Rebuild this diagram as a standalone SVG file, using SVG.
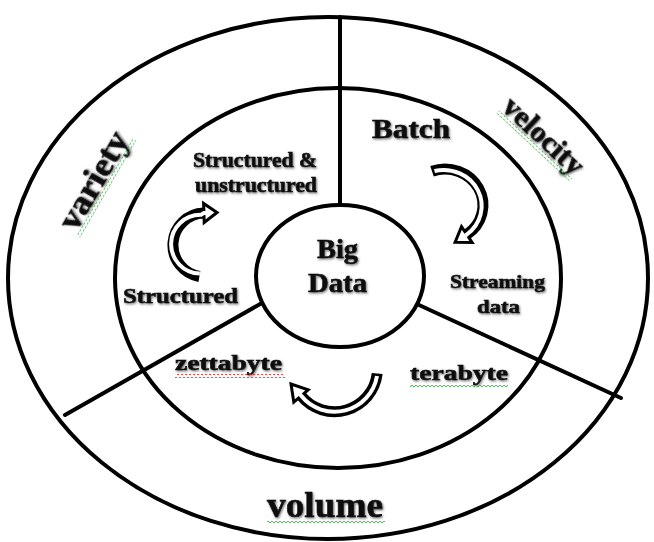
<svg xmlns="http://www.w3.org/2000/svg" width="654" height="542" viewBox="0 0 654 542">
<style>
.ring{fill:none;stroke:#000;stroke-width:4}
.hub{fill:#fff;stroke:#000;stroke-width:4}
.div{stroke:#000;stroke-width:4;fill:none;stroke-linecap:round}
.t{font-family:"Liberation Serif","Times New Roman",serif;font-weight:bold;fill:#111;stroke:#111;stroke-width:0.6;text-anchor:middle;filter:url(#sh)}
.band{fill:none;stroke:#000;stroke-width:11}
.inner{fill:none;stroke:#fff;stroke-width:4}
.head{fill:#fff;stroke:#000;stroke-width:3;stroke-linejoin:miter}
</style>
<defs>
<filter id="sh" x="-10%" y="-30%" width="120%" height="160%">
<feDropShadow dx="1" dy="1.2" stdDeviation="1" flood-color="#444" flood-opacity="0.75"/>
</filter>
<pattern id="sqG" patternUnits="userSpaceOnUse" width="4" height="4">
<polyline points="0,0.8 2,3 4,0.8" fill="none" stroke="#3aa845" stroke-width="0.9"/>
</pattern>
<pattern id="sqR" patternUnits="userSpaceOnUse" width="4" height="4">
<polyline points="0,0.8 2,3 4,0.8" fill="none" stroke="#e02525" stroke-width="0.9"/>
</pattern>
</defs>
<rect width="654" height="542" fill="#fff"/>

<g id="rings">
<ellipse id="outer-ring" class="ring" cx="328" cy="278" rx="320" ry="261"/>
<ellipse id="inner-ring" class="ring" cx="338" cy="278" rx="223" ry="190"/>
</g>

<g id="connectors">
<line class="div" x1="340" y1="17" x2="340" y2="205"/>
<line class="div" x1="262" y1="303" x2="65" y2="415"/>
<line class="div" x1="419" y1="305" x2="621" y2="398"/>
<g id="arrow-variety">
<path class="band" d="M199.4 276.5 A32 32 0 0 1 203.9 213"/>
<polygon class="head" points="217,212.5 203.6,203.5 204.2,222.5"/>
<path class="inner" d="M199.9 273.5 A29 29 0 0 1 201 214.8 A32 32 0 0 1 203.9 213 L206 213"/>
</g>
<g id="arrow-velocity">
<path class="band" d="M432 171.2 A38 36 0 0 1 466.8 234.5"/>
<polygon class="head" points="455.1,242.2 472.1,242.4 461.5,226.6"/>
<path class="inner" d="M434.5 171 A38 36 0 0 1 466.8 234.5 L465.1 235.6"/>
</g>
<g id="arrow-volume">
<path class="band" d="M377.2 373.5 A43 43 0 0 1 301 395.6"/>
<polygon class="head" points="291,384 293.8,402.2 308.2,389.8"/>
<path class="inner" d="M377 376 A43 43 0 0 1 301 395.6 L299.7 394"/>
</g>
</g>

<g id="hub">
<ellipse class="hub" cx="340" cy="276" rx="84" ry="71"/>
<text class="t" x="337.5" y="258" font-size="27" textLength="41" lengthAdjust="spacingAndGlyphs">Big</text>
<text class="t" x="337.5" y="292" font-size="27" textLength="59" lengthAdjust="spacingAndGlyphs">Data</text>
</g>

<g id="variety">
<g transform="translate(103 186) rotate(-60)">
<text class="t" x="0" y="0" font-size="33" textLength="108" lengthAdjust="spacingAndGlyphs">variety</text>
<rect x="-56" y="2" width="112" height="4" fill="url(#sqG)"/>
</g>
</g>

<g id="velocity">
<g transform="translate(537 143) rotate(43)">
<text class="t" x="0" y="0" font-size="30" textLength="100" lengthAdjust="spacingAndGlyphs">velocity</text>
<rect x="-50" y="2" width="100" height="4" fill="url(#sqG)"/>
</g>
</g>

<g id="volume">
<text class="t" x="325" y="517" font-size="36" textLength="116" lengthAdjust="spacingAndGlyphs">volume</text>
<rect x="267" y="520" width="118" height="4" fill="url(#sqG)"/>
</g>

<g id="structured-unstructured">
<text class="t" x="255" y="167" font-size="20" textLength="124" lengthAdjust="spacingAndGlyphs">Structured &amp;</text>
<text class="t" x="256" y="192" font-size="20" textLength="122" lengthAdjust="spacingAndGlyphs">unstructured</text>
</g>

<g id="structured">
<text class="t" x="180.5" y="303" font-size="21" textLength="115" lengthAdjust="spacingAndGlyphs">Structured</text>
</g>

<g id="batch">
<text class="t" x="411" y="138" font-size="27" textLength="78" lengthAdjust="spacingAndGlyphs">Batch</text>
</g>

<g id="streaming-data">
<text class="t" x="497.5" y="288" font-size="19" textLength="95" lengthAdjust="spacingAndGlyphs">Streaming</text>
<text class="t" x="498.5" y="313" font-size="19" textLength="43" lengthAdjust="spacingAndGlyphs">data</text>
</g>

<g id="zettabyte">
<text class="t" x="228.5" y="370" font-size="20" textLength="107" lengthAdjust="spacingAndGlyphs">zettabyte</text>
<rect x="175" y="374" width="110" height="4" fill="url(#sqR)"/>
</g>

<g id="terabyte">
<text class="t" x="459" y="380" font-size="21" textLength="98" lengthAdjust="spacingAndGlyphs">terabyte</text>
<rect x="410" y="383" width="98" height="4" fill="url(#sqG)"/>
</g>
</svg>
